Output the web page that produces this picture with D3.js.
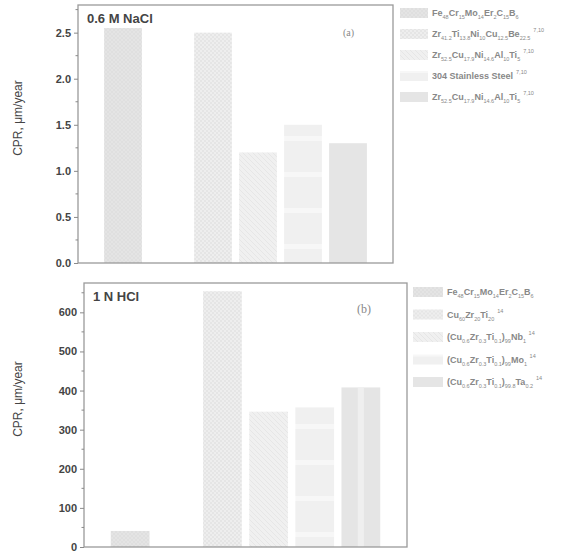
<!DOCTYPE html>
<html>
<head>
<meta charset="utf-8">
<script src="https://cdn.jsdelivr.net/npm/d3@7"></script>
<style>
  body { margin: 0; background: #fff; }
  svg { display: block; }
</style>
</head>
<body>
<div id="root"></div>
<script>
// bar slots on the x axis (slot 2 left empty, as in the figure)
var slots = [1, 3, 4, 5, 6]
var naclCPR = [2.55, 2.5, 1.2, 1.5, 1.3]
var hclCPR = [41, 654, 346, 357, 408]
var naclTicks = [0, 0.5, 1.0, 1.5, 2.0, 2.5]
var hclTicks = [0, 100, 200, 300, 400, 500, 600]

// legend labels: [text, kind] with kind '' normal, 'sub', 'sup'
var naclLegend = [
    [['Fe', ''], ['48', 'sub'], ['Cr', ''], ['15', 'sub'], ['Mo', ''], ['14', 'sub'], ['Er', ''], ['2', 'sub'], ['C', ''], ['15', 'sub'], ['B', ''], ['6', 'sub']],
    [['Zr', ''], ['41.2', 'sub'], ['Ti', ''], ['13.8', 'sub'], ['Ni', ''], ['10', 'sub'], ['Cu', ''], ['12.5', 'sub'], ['Be', ''], ['22.5', 'sub'], ['7,10', 'sup']],
    [['Zr', ''], ['52.5', 'sub'], ['Cu', ''], ['17.9', 'sub'], ['Ni', ''], ['14.6', 'sub'], ['Al', ''], ['10', 'sub'], ['Ti', ''], ['5', 'sub'], ['7,10', 'sup']],
    [['304 Stainless Steel', ''], ['7,10', 'sup']],
    [['Zr', ''], ['52.5', 'sub'], ['Cu', ''], ['17.9', 'sub'], ['Ni', ''], ['14.6', 'sub'], ['Al', ''], ['10', 'sub'], ['Ti', ''], ['5', 'sub'], ['7,10', 'sup']]
]
var hclLegend = [
    [['Fe', ''], ['48', 'sub'], ['Cr', ''], ['15', 'sub'], ['Mo', ''], ['14', 'sub'], ['Er', ''], ['2', 'sub'], ['C', ''], ['15', 'sub'], ['B', ''], ['6', 'sub']],
    [['Cu', ''], ['60', 'sub'], ['Zr', ''], ['20', 'sub'], ['Ti', ''], ['20', 'sub'], ['14', 'sup']],
    [['(Cu', ''], ['0.6', 'sub'], ['Zr', ''], ['0.3', 'sub'], ['Ti', ''], ['0.1', 'sub'], [')', ''], ['99', 'sub'], ['Nb', ''], ['1', 'sub'], ['14', 'sup']],
    [['(Cu', ''], ['0.6', 'sub'], ['Zr', ''], ['0.3', 'sub'], ['Ti', ''], ['0.1', 'sub'], [')', ''], ['99', 'sub'], ['Mo', ''], ['1', 'sub'], ['14', 'sup']],
    [['(Cu', ''], ['0.6', 'sub'], ['Zr', ''], ['0.3', 'sub'], ['Ti', ''], ['0.1', 'sub'], [')', ''], ['99.8', 'sub'], ['Ta', ''], ['0.2', 'sub'], ['14', 'sup']]
]

var svg = d3.select('#root').append('svg').attr('width', 578).attr('height', 553)
var defs = svg.append('defs')

// fill patterns, one per bar
function pat(id, w, h, bg, draw) {
    var p = defs.append('pattern').attr('id', id).attr('patternUnits', 'userSpaceOnUse')
        .attr('width', w).attr('height', h)
    p.append('rect').attr('width', w).attr('height', h).attr('fill', bg)
    draw(p)
}
pat('p0', 4, 4, '#e4e4e4', function (p) {
    p.append('path').attr('d', 'M0,0L4,4M4,0L0,4').attr('stroke', '#dadada').attr('stroke-width', 0.5)
})
pat('p1', 4, 4, '#eeeeee', function (p) {
    p.append('rect').attr('x', 0).attr('y', 0).attr('width', 2).attr('height', 2).attr('fill', '#e5e5e5')
    p.append('rect').attr('x', 2).attr('y', 2).attr('width', 2).attr('height', 2).attr('fill', '#e5e5e5')
})
pat('p2', 5, 5, '#f0f0f0', function (p) {
    p.append('path').attr('d', 'M0,0L5,5M-1,4L1,6M4,-1L6,1').attr('stroke', '#e3e3e3').attr('stroke-width', 0.8)
})
pat('p3', 10, 36, '#f0f0f0', function (p) {
    p.append('rect').attr('y', 28).attr('width', 10).attr('height', 5).attr('fill', '#f7f7f7')
})
var fills = ['url(#p0)', 'url(#p1)', 'url(#p2)', 'url(#p3)', '#e5e5e5']

function panel(cfg) {
    var x = d3.scaleLinear().domain([0, 7]).range([cfg.left, cfg.right])
    var y = d3.scaleLinear().domain([0, cfg.max]).range([cfg.bottom, cfg.top])
    var bw = (x(1) - x(0)) * 0.84
    var g = svg.append('g')

    g.selectAll('rect.bar').data(cfg.values).enter().append('rect')
        .attr('class', 'bar')
        .attr('x', function (d, i) { return x(slots[i]) - bw / 2 })
        .attr('y', function (d) { return y(d) })
        .attr('width', bw)
        .attr('height', function (d) { return y(0) - y(d) })
        .attr('fill', function (d, i) { return fills[i] })
    // lighter vertical band in last bar of the HCl panel
    if (cfg.band) {
        var v = cfg.values[4]
        g.append('rect').attr('x', x(slots[4]) - bw * 0.08).attr('y', y(v))
            .attr('width', bw * 0.16).attr('height', y(0) - y(v)).attr('fill', '#efefef')
    }

    // frame
    g.append('rect').attr('x', cfg.left).attr('y', cfg.top)
        .attr('width', cfg.right - cfg.left).attr('height', cfg.bottom - cfg.top)
        .attr('fill', 'none').attr('stroke', '#9a9a9a').attr('stroke-width', 1.3)

    var ax = g.append('g').attr('transform', 'translate(' + cfg.left + ',0)')
        .call(d3.axisLeft(y).tickValues(cfg.ticks).tickSize(4).tickPadding(3).tickFormat(cfg.fmt))
    ax.select('.domain').remove()
    ax.selectAll('line').attr('stroke', '#8a8a8a')
    ax.selectAll('text').attr('font-family', 'Arial, Liberation Sans, sans-serif')
        .attr('font-size', 11).attr('font-weight', 'bold').attr('fill', '#444')
    var minor = d3.range(cfg.minor / 2, cfg.max, cfg.minor)
    g.selectAll('line.minor').data(minor).enter().append('line')
        .attr('x1', cfg.left - 2.5).attr('x2', cfg.left)
        .attr('y1', function (d) { return y(d) }).attr('y2', function (d) { return y(d) })
        .attr('stroke', '#8a8a8a')

    g.append('text').attr('transform', 'translate(' + cfg.titleX + ',' + ((cfg.top + cfg.bottom) / 2 - 16) + ') rotate(-90)')
        .attr('text-anchor', 'middle').attr('font-family', 'Arial, Liberation Sans, sans-serif')
        .attr('font-size', 12).attr('fill', '#444').text('CPR, μm/year')

    g.append('text').attr('x', cfg.left + 9).attr('y', cfg.top + 18)
        .attr('font-family', 'Arial, Liberation Sans, sans-serif').attr('font-size', 13)
        .attr('font-weight', 'bold').attr('fill', '#444').text(cfg.label)
    g.append('text').attr('x', cfg.tagX).attr('y', cfg.tagY)
        .attr('font-family', 'Liberation Serif, serif').attr('font-size', cfg.tagSize)
        .attr('fill', '#888').text(cfg.tag)

    // legend
    var lg = g.selectAll('g.leg').data(cfg.legend).enter().append('g')
        .attr('transform', function (d, i) { return 'translate(' + cfg.legX + ',' + (cfg.legY + i * cfg.legStep) + ')' })
    lg.append('rect').attr('x', 0).attr('y', -5).attr('width', cfg.swW).attr('height', 10)
        .attr('fill', function (d, i) { return fills[i] })
    var t = lg.append('text').attr('x', cfg.swW + 4).attr('y', 3)
        .attr('font-family', 'Arial, Liberation Sans, sans-serif').attr('font-size', 9)
        .attr('font-weight', 'bold').attr('fill', '#888')
    t.selectAll('tspan').data(function (d) { return d }).enter().append('tspan')
        .attr('font-size', function (d) { return d[1] ? 5.5 : 9 })
        .attr('font-weight', function (d) { return d[1] ? 'normal' : 'bold' })
        .attr('dy', function (d, i, n) {
            var prev = i > 0 ? d3.select(n[i - 1]).datum()[1] : ''
            var off = { '': 0, sub: 3, sup: -5 }
            return off[d[1]] - off[prev]
        })
        .attr('dx', function (d) { return d[1] === 'sup' ? 3 : 0 })
        .text(function (d) { return d[0] })
}

panel({
    left: 78, right: 393, top: 5, bottom: 263, max: 2.8, minor: 0.5,
    values: naclCPR, ticks: naclTicks, fmt: d3.format('.1f'),
    titleX: 22, label: '0.6 M NaCl', tag: '(a)', tagX: 343, tagY: 36, tagSize: 10,
    legend: naclLegend, legX: 400, legY: 13, legStep: 21, swW: 28
})
panel({
    left: 84, right: 407, top: 283, bottom: 547, max: 675, minor: 100,
    values: hclCPR, ticks: hclTicks, fmt: d3.format('d'), band: true,
    titleX: 22, label: '1 N HCl', tag: '(b)', tagX: 357, tagY: 313, tagSize: 12,
    legend: hclLegend, legX: 413, legY: 292, legStep: 22.5, swW: 30
})
</script>
</body>
</html>
